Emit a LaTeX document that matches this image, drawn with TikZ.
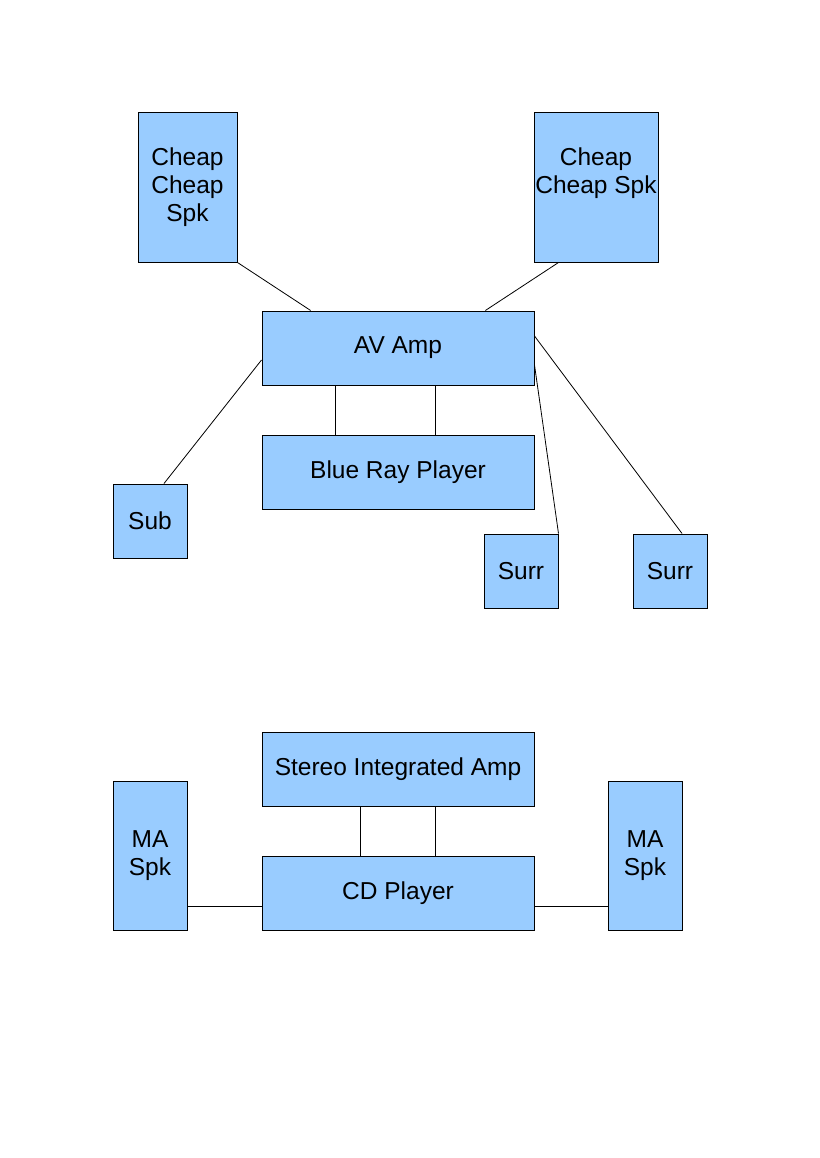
\documentclass[tikz,border=0pt]{standalone}
\usepackage{fontspec}
\setmainfont{Liberation Sans}
\usetikzlibrary{calc,positioning}
\definecolor{boxblue}{HTML}{99CCFF}

\begin{document}
\begin{tikzpicture}[x=1pt,y=-1pt,font=\fontsize{24.5}{28}\selectfont,
  box/.style={draw,fill=boxblue,line width=1pt,inner sep=0pt,align=center},
  wire/.style={line width=0.8pt}]
\useasboundingbox (0,0) rectangle (819,1158);
% home cinema
\node[box,minimum width=99pt,minimum height=149pt] (cheapL) at (187.5,187.5) {Cheap\\Cheap\\Spk};
\node[box,minimum width=124pt,minimum height=149pt] (cheapR) at (596,187.5) {};
\node[align=center,inner sep=0pt] (cheapRtxt) at ($(cheapR.north)+(0,61)$) {Cheap\\Cheap Spk};
\node[box,minimum width=272pt,minimum height=74pt] (avamp) at (398,348) {AV Amp};
\node[box,minimum width=272pt,minimum height=74pt] (bluray) at (398,472) {Blue Ray Player};
\node[box,minimum width=74pt,minimum height=74pt] (sub) at (150,521) {Sub};
\node[box,minimum width=74pt,minimum height=74pt] (surrA) at (521,571) {Surr};
\node[box,minimum width=74pt,minimum height=74pt] (surrB) at (670,571) {Surr};
\draw[wire] (cheapL.south east) -- ($(avamp.north west)!0.18!(avamp.north east)$);
\draw[wire] ($(cheapR.south west)!0.2!(cheapR.south east)$) -- ($(avamp.north west)!0.82!(avamp.north east)$);
\foreach \f in {0.272,0.636}{\draw[wire] ($(avamp.south west)!\f!(avamp.south east)$) -- ($(bluray.north west)!\f!(bluray.north east)$);}
\draw[wire] ($(avamp.west)+(0,12)$) -- ($(sub.north)+(14,0)$);
\draw[wire] ($(avamp.east)+(0,17)$) -- (surrA.north east);
\draw[wire] ($(avamp.east)+(0,-12)$) -- ($(surrB.north)+(12,0)$);
% stereo
\node[box,minimum width=272pt,minimum height=74pt] (stamp) at (398,769) {Stereo Integrated Amp};
\node[box,minimum width=272pt,minimum height=74pt] (cd) at (398,893) {CD Player};
\node[box,minimum width=74pt,minimum height=149pt] (maL) at (150,855.5) {MA\\Spk};
\node[box,minimum width=74pt,minimum height=149pt] (maR) at (645,855.5) {MA\\Spk};
\foreach \f in {0.364,0.636}{\draw[wire] ($(stamp.south west)!\f!(stamp.south east)$) -- ($(cd.north west)!\f!(cd.north east)$);}
\draw[wire] ($(cd.west)+(0,13)$) coordinate (cdl) -- (cdl -| maL.east);
\draw[wire] ($(cd.east)+(0,13)$) coordinate (cdr) -- (cdr -| maR.west);
\end{tikzpicture}
\end{document}
